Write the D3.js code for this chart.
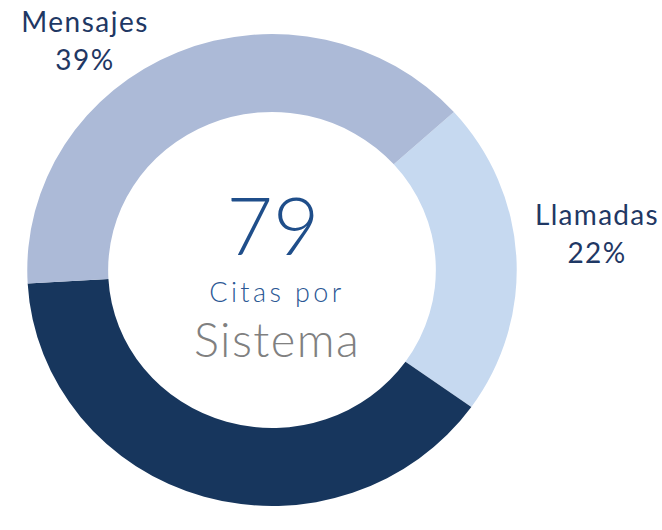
<!DOCTYPE html>
<html><head><meta charset="utf-8">
<script src="https://cdn.jsdelivr.net/npm/d3@7"></script>
<style>body{margin:0;background:#fff}svg{display:block}</style>
</head><body><svg id="c" width="662" height="530"></svg>
<script>
const categories = ["Llamadas", "Sistema", "Mensajes"];
const values = [17, 31, 31];
const colors = ["#c6d9f0", "#17365d", "#acbad7"];
const showLabel = [true, false, true];
const centerNumber = "79";
const centerLine1 = "Citas por";
const centerLine2 = "Sistema";

const svg = d3.select("#c");
const cx = 272, cy = 270, R = 236, r = 158, sx = 1.037;
const total = d3.sum(values);
const startDeg = 48;
const pie = d3.pie().sort(null)
  .startAngle(startDeg * Math.PI / 180)
  .endAngle((startDeg + 360) * Math.PI / 180);
const arcs = pie(values);
const arc = d3.arc().innerRadius(r).outerRadius(R);

const g = svg.append("g").attr("transform", `translate(${cx},${cy}) scale(${sx},1)`);
g.selectAll("path").data(arcs).join("path")
  .attr("d", arc).attr("fill", (d, i) => colors[i]);

const fmt = d3.format(".0%");
const labelPos = { "Llamadas": [597, 225, 1.3], "Mensajes": [85, 32, 1.5] };
categories.forEach((c, i) => {
  if (!showLabel[i]) return;
  const [x, y, ls] = labelPos[c];
  const t = svg.append("text").attr("text-anchor", "middle")
    .attr("font-family", "Lato, 'Open Sans', sans-serif").attr("font-size", 28)
    .attr("letter-spacing", ls).attr("fill", "#1f3864");
  t.append("tspan").attr("x", x).attr("y", y).text(c);
  t.append("tspan").attr("x", x).attr("y", y + 38).text(fmt(values[i] / total));
});

svg.append("text").attr("x", 273).attr("y", 255).attr("text-anchor", "middle")
  .attr("font-family", "Lato, sans-serif").attr("font-weight", 300).attr("font-size", 80)
  .attr("fill", "#1f4e8a").text(centerNumber);
svg.append("text").attr("x", 277).attr("y", 302).attr("text-anchor", "middle")
  .attr("font-family", "Lato, sans-serif").attr("font-weight", 300).attr("font-size", 27)
  .attr("letter-spacing", 3.4).attr("fill", "#2b5794").text(centerLine1);
svg.append("text").attr("x", 277).attr("y", 357).attr("text-anchor", "middle")
  .attr("font-family", "Lato, sans-serif").attr("font-weight", 300).attr("font-size", 47)
  .attr("letter-spacing", 1.4).attr("fill", "#808080").text(centerLine2);
</script></body></html>
